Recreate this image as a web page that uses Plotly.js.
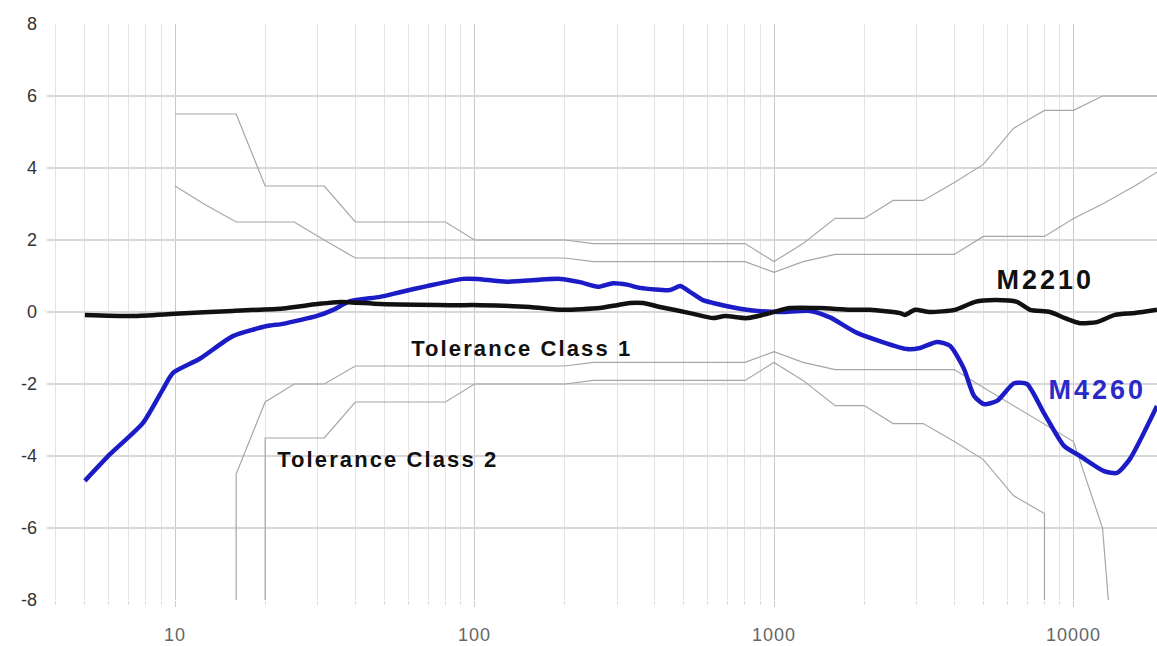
<!DOCTYPE html>
<html>
<head>
<meta charset="utf-8">
<script src="https://cdn.plot.ly/plotly-3.0.1.min.js"></script>
<style>
  html, body { margin: 0; padding: 0; background: #fff; }
  #chart { width: 1157px; height: 646px; }
  .xtick text { letter-spacing: 1px; }
  g.annotation[data-index="0"] text, g.annotation[data-index="1"] text { letter-spacing: 3px; }
  g.annotation[data-index="2"] text, g.annotation[data-index="3"] text { letter-spacing: 2.1px; }
</style>
</head>
<body>
<div id="chart"></div>
<script>
// ---- Measured response curves (frequency in Hz, level in dB) ----
const freqM4260 = [5.0, 6.07, 7.82, 9.12, 9.85, 12.1, 15.6, 20.3, 22.9, 29.8, 33.7, 38.4, 48.4, 56.4, 69.4, 91.5, 102, 128, 193, 225, 258, 290, 323, 357, 450, 486, 524, 579, 626, 812, 1047, 1319, 1538, 1893, 2780, 3073, 3502, 3869, 4309, 4653, 5026, 5555, 6329, 6993, 7968, 9297, 10512, 12643, 13972, 15440, 19000];
const valM4260  = [-4.69, -3.95, -3.08, -2.14, -1.69, -1.3, -0.67, -0.39, -0.33, -0.11, 0.06, 0.3, 0.42, 0.55, 0.72, 0.92, 0.92, 0.84, 0.92, 0.83, 0.70, 0.80, 0.76, 0.67, 0.61, 0.72, 0.56, 0.33, 0.25, 0.06, 0.0, 0.03, -0.15, -0.58, -1.03, -1.0, -0.83, -0.94, -1.58, -2.33, -2.56, -2.47, -1.98, -2.0, -2.81, -3.72, -4.0, -4.42, -4.47, -4.08, -2.61];

const freqM2210 = [5.0, 7.24, 10, 15.6, 22.9, 29.8, 35.6, 48.4, 82.8, 104, 153, 197, 262, 299, 330, 365, 416, 524, 626, 686, 812, 970, 1131, 1424, 1794, 2092, 2635, 2737, 2956, 3318, 4021, 4690, 5470, 6477, 7158, 8346, 9368, 10512, 11984, 13760, 16046, 19000];
const valM2210  = [-0.08, -0.11, -0.05, 0.03, 0.1, 0.22, 0.28, 0.22, 0.19, 0.19, 0.14, 0.06, 0.11, 0.19, 0.25, 0.25, 0.14, -0.03, -0.17, -0.11, -0.17, -0.03, 0.11, 0.11, 0.06, 0.06, -0.03, -0.08, 0.06, 0.0, 0.06, 0.28, 0.33, 0.28, 0.06, 0.0, -0.17, -0.31, -0.28, -0.08, -0.03, 0.06];

// ---- Tolerance limits (dB); -25 stands for "minus infinity" (off chart) ----
const tolFreq     = [10, 12.5, 16, 20, 25, 31.5, 40, 50, 63, 80, 100, 125, 160, 200, 250, 315, 400, 500, 630, 800, 1000, 1250, 1600, 2000, 2500, 3150, 4000, 5000, 6300, 8000, 10000, 12500, 16000, 20000];
const class1Upper = [3.5, 3.0, 2.5, 2.5, 2.5, 2.0, 1.5, 1.5, 1.5, 1.5, 1.5, 1.5, 1.5, 1.5, 1.4, 1.4, 1.4, 1.4, 1.4, 1.4, 1.1, 1.4, 1.6, 1.6, 1.6, 1.6, 1.6, 2.1, 2.1, 2.1, 2.6, 3.0, 3.5, 4.0];
const class2Upper = [5.5, 5.5, 5.5, 3.5, 3.5, 3.5, 2.5, 2.5, 2.5, 2.5, 2.0, 2.0, 2.0, 2.0, 1.9, 1.9, 1.9, 1.9, 1.9, 1.9, 1.4, 1.9, 2.6, 2.6, 3.1, 3.1, 3.6, 4.1, 5.1, 5.6, 5.6, 6.0, 6.0, 6.0];

const class1LowerFreq = [16, 16, 20, 25, 31.5, 40, 50, 63, 80, 100, 125, 160, 200, 250, 315, 400, 500, 630, 800, 1000, 1250, 1600, 2000, 2500, 3150, 4000, 5000, 6300, 8000, 10000, 12500, 16000];
const class1Lower     = [-25, -4.5, -2.5, -2.0, -2.0, -1.5, -1.5, -1.5, -1.5, -1.5, -1.5, -1.5, -1.5, -1.4, -1.4, -1.4, -1.4, -1.4, -1.4, -1.1, -1.4, -1.6, -1.6, -1.6, -1.6, -1.6, -2.1, -2.6, -3.1, -3.6, -6.0, -17];

const class2LowerFreq = [20, 20, 25, 31.5, 40, 50, 63, 80, 100, 125, 160, 200, 250, 315, 400, 500, 630, 800, 1000, 1250, 1600, 2000, 2500, 3150, 4000, 5000, 6300, 8000, 8000];
const class2Lower     = [-25, -3.5, -3.5, -3.5, -2.5, -2.5, -2.5, -2.5, -2.0, -2.0, -2.0, -2.0, -1.9, -1.9, -1.9, -1.9, -1.9, -1.9, -1.4, -1.9, -2.6, -2.6, -3.1, -3.1, -3.6, -4.1, -5.1, -5.6, -25];

// ---- Tick labels ----
const xTickVals = [10, 100, 1000, 10000];
const xTickText = ['10', '100', '1000', '10000'];
const yTickVals = [-8, -6, -4, -2, 0, 2, 4, 6, 8];
const yTickText = ['-8', '-6', '-4', '-2', '0', '2', '4', '6', '8'];

// ---- Labels ----
const labelM2210 = 'M2210';
const labelM4260 = 'M4260';
const labelClass1 = 'Tolerance Class 1';
const labelClass2 = 'Tolerance Class 2';

// minor log grid positions (2..9 of each decade)
const minorVals = [];
[1, 10, 100, 1000, 10000].forEach(function (d) {
  for (let k = 2; k <= 9; k++) minorVals.push(k * d);
});

const tolStyle = { color: '#a6a6a6', width: 1.2 };
const blue = '#1c1cc6';
const fam = 'Liberation Sans, Arial, sans-serif';

const traces = [
  { x: tolFreq, y: class2Upper, mode: 'lines', line: tolStyle, hoverinfo: 'skip' },
  { x: tolFreq, y: class1Upper, mode: 'lines', line: tolStyle, hoverinfo: 'skip' },
  { x: class1LowerFreq, y: class1Lower, mode: 'lines', line: tolStyle, hoverinfo: 'skip' },
  { x: class2LowerFreq, y: class2Lower, mode: 'lines', line: tolStyle, hoverinfo: 'skip' },
  { x: freqM4260, y: valM4260, mode: 'lines', name: labelM4260,
    line: { color: blue, width: 4.5, shape: 'spline', smoothing: 0.6 } },
  { x: freqM2210, y: valM2210, mode: 'lines', name: labelM2210,
    line: { color: '#111111', width: 4.5, shape: 'spline', smoothing: 0.6 } }
];

const layout = {
  width: 1157,
  height: 646,
  margin: { l: 47, r: 0, t: 24, b: 46 },
  paper_bgcolor: '#ffffff',
  plot_bgcolor: '#ffffff',
  showlegend: false,
  font: { family: fam },
  xaxis: {
    type: 'log',
    range: [0.5726, 4.2788],
    tickmode: 'array',
    tickvals: xTickVals,
    ticktext: xTickText,
    tickfont: { size: 18, color: '#666666' },
    ticks: 'outside',
    ticklen: 6,
    tickcolor: '#cccccc',
    ticklabelstandoff: 12,
    showgrid: true,
    gridcolor: '#c8c8c8',
    gridwidth: 1,
    zeroline: false,
    showline: false,
    minor: {
      tickmode: 'array',
      tickvals: minorVals,
      showgrid: true,
      gridcolor: '#e4e4e4',
      gridwidth: 1,
      ticks: 'outside',
      ticklen: 4,
      tickcolor: '#dddddd'
    }
  },
  yaxis: {
    range: [-8, 8],
    tickmode: 'array',
    tickvals: yTickVals,
    ticktext: yTickText,
    tickfont: { size: 18, color: '#333333' },
    ticks: '',
    ticklabelstandoff: 9,
    showgrid: true,
    gridcolor: '#d8d8d8',
    gridwidth: 1.6,
    zeroline: false,
    showline: false
  },
  annotations: [
    { text: labelM2210, xref: 'x', yref: 'y', x: 3.905, y: 0.89,
      xanchor: 'center', yanchor: 'middle', showarrow: false,
      font: { size: 27, color: '#111111', family: fam, weight: 'bold' } },
    { text: labelM4260, xref: 'x', yref: 'y', x: 4.0785, y: -2.17,
      xanchor: 'center', yanchor: 'middle', showarrow: false,
      font: { size: 27, color: '#2a2ac8', family: fam, weight: 'bold' } },
    { text: labelClass1, xref: 'x', yref: 'y', x: Math.log10(144), y: -1.0,
      xanchor: 'center', yanchor: 'middle', showarrow: false,
      font: { size: 22, color: '#111111', family: fam, weight: 'bold' } },
    { text: labelClass2, xref: 'x', yref: 'y', x: Math.log10(51.4), y: -4.1,
      xanchor: 'center', yanchor: 'middle', showarrow: false,
      font: { size: 22, color: '#111111', family: fam, weight: 'bold' } }
  ]
};

Plotly.newPlot('chart', traces, layout, { staticPlot: true, displayModeBar: false });
</script>
</body>
</html>
